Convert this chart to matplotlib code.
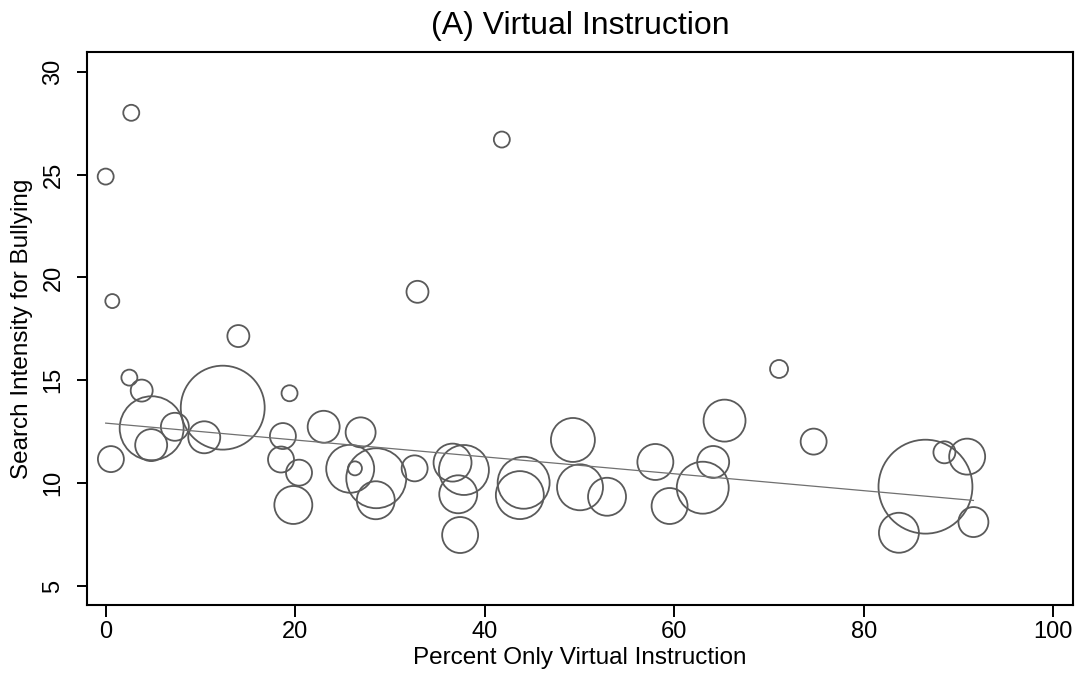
import numpy as np
import matplotlib
matplotlib.use("Agg")
import matplotlib.pyplot as plt

plt.rcParams["font.family"] = ["Liberation Sans", "DejaVu Sans"]

# percent of students in only-virtual instruction, per state
pct_virtual = [
    0.0, 2.7, 41.8, 0.7, 32.9, 14.0, 2.5, 3.8, 4.85, 4.8,
    7.3, 10.4, 12.35, 0.55, 19.4, 18.7, 18.5, 20.4, 19.8, 23.0,
    26.9, 25.8, 26.3, 28.55, 28.5, 32.6, 36.6, 37.8, 37.2, 37.4,
    44.1, 43.7, 49.3, 50.05, 52.9, 58.0, 59.5, 63.0, 64.1, 65.3,
    71.05, 74.7, 86.5, 88.5, 90.9, 91.56, 83.7,
]
# search intensity for "bullying"
search_intensity = [
    24.9, 28.0, 26.7, 18.85, 19.3, 17.15, 15.13, 14.5, 12.67, 11.85,
    12.74, 12.23, 13.67, 11.17, 14.37, 12.29, 11.15, 10.51, 8.94, 12.74,
    12.47, 10.7, 10.72, 10.24, 9.17, 10.72, 11.0, 10.64, 9.46, 7.48,
    10.02, 9.42, 12.1, 9.8, 9.34, 11.03, 8.89, 9.78, 11.03, 13.04,
    15.55, 12.02, 9.83, 11.5, 11.29, 8.11, 7.59,
]
# analytic weights (relative population size)
weights = [
    64, 64, 64, 49, 121, 121, 64, 121, 1024, 256,
    196, 256, 1764, 169, 64, 169, 169, 169, 361, 256,
    225, 576, 49, 900, 361, 169, 361, 625, 361, 324,
    676, 576, 484, 529, 361, 324, 324, 676, 256, 441,
    81, 169, 2209, 121, 324, 225, 400,
]

x = np.array(pct_virtual)
y = np.array(search_intensity)
w = np.array(weights, dtype=float)

fig = plt.figure(figsize=(10.76, 6.74), dpi=100)
ax = fig.add_axes([0.0806, 0.1024, 0.9169, 0.82])

# bubble area proportional to weight
ax.scatter(x, y, s=w * 2.07, facecolors="none", edgecolors="#5a5a5a",
           linewidths=1.3, zorder=2)

# weighted linear fit
slope, intercept = np.polyfit(x, y, 1, w=np.sqrt(w))
xs = np.linspace(x.min(), x.max(), 50)
ax.plot(xs, intercept + slope * xs, color="#707070", linewidth=0.9, zorder=3)

ax.set_xlim(-2.0, 102.1)
ax.set_ylim(4.08, 30.94)
ax.set_xticks([0, 20, 40, 60, 80, 100])
ax.set_yticks([5, 10, 15, 20, 25, 30])

ax.tick_params(axis="x", length=8.5, width=1.4, labelsize=17, pad=3)
ax.tick_params(axis="y", length=7, width=1.4, labelsize=17, pad=9,
               labelrotation=90)
for lbl in ax.get_yticklabels():
    lbl.set_verticalalignment("center")

for side in ["left", "bottom", "top", "right"]:
    ax.spines[side].set_linewidth(1.5)
    ax.spines[side].set_color("black")

ax.set_xlabel("Percent Only Virtual Instruction", fontsize=17.5, labelpad=3)
ax.set_ylabel("Search Intensity for Bullying", fontsize=17.5, labelpad=7)
ax.set_title("(A) Virtual Instruction", fontsize=23, pad=13)

fig.savefig("out.png", dpi=100, facecolor="white")
